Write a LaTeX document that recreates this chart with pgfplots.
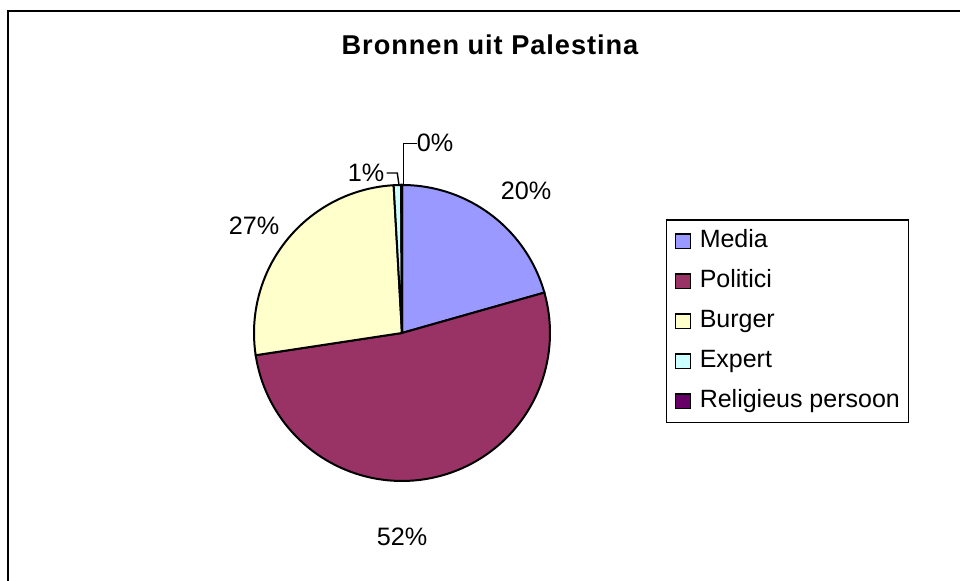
\documentclass[border=0pt]{standalone}
\usepackage{fontspec}
\setmainfont{Liberation Sans}
\usepackage{pgfplots}
\usepackage{pgfplotstable}
\pgfplotsset{compat=1.18}
\definecolor{cMedia}{HTML}{9999FF}
\definecolor{cPolitici}{HTML}{993366}
\definecolor{cBurger}{HTML}{FFFFCC}
\definecolor{cExpert}{HTML}{CCFFFF}
\definecolor{cRelig}{HTML}{660066}
\pgfplotstableread{
label value
Media 20.6
Politici 52.0
Burger 26.5
Expert 0.8
Religieus 0.1
}\piedata
\begin{document}
\begin{tikzpicture}
\pgfplotstablegetelem{0}{value}\of\piedata \pgfmathsetmacro\aA{90-3.6*\pgfplotsretval}
\pgfplotstablegetelem{1}{value}\of\piedata \pgfmathsetmacro\aB{\aA-3.6*\pgfplotsretval}
\pgfplotstablegetelem{2}{value}\of\piedata \pgfmathsetmacro\aC{\aB-3.6*\pgfplotsretval}
\pgfplotstablegetelem{3}{value}\of\piedata \pgfmathsetmacro\aD{\aC-3.6*\pgfplotsretval}
\pgfplotstablegetelem{4}{value}\of\piedata \pgfmathsetmacro\aE{\aD-3.6*\pgfplotsretval}
\def\cx{402}\def\cy{248}\def\r{148}
\begin{axis}[at={(0,0)}, anchor=south west, x=0.5pt, y=0.5pt,
  xmin=0, xmax=960, ymin=0, ymax=581, hide axis, clip=false,
  legend image code/.code={\draw[#1, line width=0.7pt] (0pt,-3.6pt) rectangle (7.4pt,3.6pt);},
  legend cell align=left,
  legend style={at={(axis description cs:0.6934,0.6225)}, anchor=north west,
    draw=black, line width=0.7pt, fill=white,
    font=\fontsize{12.5}{14}\selectfont,
    inner xsep=4.3pt, inner ysep=4.6pt, row sep=8pt, column sep=4.3pt,
    nodes={inner sep=0pt, text height=9pt, text depth=3pt}},
  every axis plot/.append style={draw=black, line width=1pt, variable=\t}]
\addplot[fill=cMedia, domain=\aA:90, samples=40] ({\cx+\r*cos(\t)},{\cy+\r*sin(\t)}) -- (axis cs:\cx,\cy) -- cycle;
\addplot[fill=cPolitici, domain=\aB:\aA, samples=90] ({\cx+\r*cos(\t)},{\cy+\r*sin(\t)}) -- (axis cs:\cx,\cy) -- cycle;
\addplot[fill=cBurger, domain=\aC:\aB, samples=50] ({\cx+\r*cos(\t)},{\cy+\r*sin(\t)}) -- (axis cs:\cx,\cy) -- cycle;
\addplot[fill=cExpert, domain=\aD:\aC, samples=4] ({\cx+\r*cos(\t)},{\cy+\r*sin(\t)}) -- (axis cs:\cx,\cy) -- cycle;
\addplot[fill=cRelig, domain=\aE:\aD, samples=2] ({\cx+\r*cos(\t)},{\cy+\r*sin(\t)}) -- (axis cs:\cx,\cy) -- cycle;
\legend{Media,Politici,Burger,Expert,Religieus persoon}
% labels
\node[anchor=base, font=\fontsize{12.6}{14}\selectfont] at (axis cs:526,381) {20\%};
\node[anchor=base, font=\fontsize{12.6}{14}\selectfont] at (axis cs:402,35) {52\%};
\node[anchor=base, font=\fontsize{12.6}{14}\selectfont] at (axis cs:254,346) {27\%};
\node[anchor=base, font=\fontsize{12.6}{14}\selectfont] at (axis cs:366,399) {1\%};
\node[anchor=base, font=\fontsize{12.6}{14}\selectfont] at (axis cs:435,429) {0\%};
\draw[line width=0.7pt] (axis cs:386.5,408) -- (axis cs:397.3,408) -- (axis cs:399,396);
\draw[line width=0.7pt] (axis cs:416.5,437.5) -- (axis cs:403.3,437.5) -- (axis cs:403.3,396);
% title
\node[anchor=base, font=\fontsize{13.6}{16}\selectfont\bfseries\addfontfeature{LetterSpace=3.5}] at (axis cs:490,526) {Bronnen uit Palestina};
% frame
\draw[line width=1pt] (axis cs:8,-2) -- (axis cs:8,570) -- (axis cs:962,570);
\end{axis}
\pgfresetboundingbox
\path (0,0) rectangle (480pt,290.5pt);
\end{tikzpicture}
\end{document}
